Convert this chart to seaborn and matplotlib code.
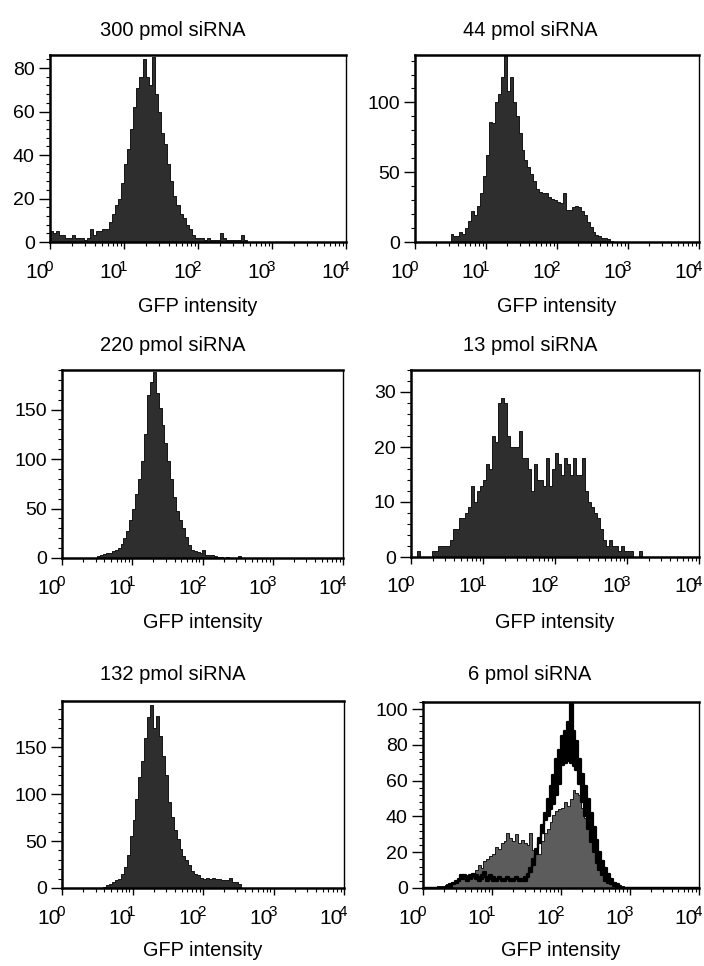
import numpy as np
import matplotlib
matplotlib.use("Agg")
import matplotlib.pyplot as plt
import matplotlib.transforms as mtransforms
from matplotlib.ticker import FixedLocator, AutoMinorLocator, LogLocator, NullFormatter
import seaborn as sns

# ---------------- data (histogram counts, 24 bins per decade, 10^0..10^4) ----------------
BINS_PER_DECADE = 24
N_BINS = 96

titles = ["300 pmol siRNA", "44 pmol siRNA", "220 pmol siRNA",
          "13 pmol siRNA", "132 pmol siRNA", "6 pmol siRNA"]
xlabel_text = "GFP intensity"
xtick_exponents = [0, 1, 2, 3, 4]

start_300 = 0
counts_300 = [5, 4, 5, 3, 3, 2, 2, 3, 2, 2, 2, 1, 2, 6, 3, 5, 5, 6, 6, 9, 13, 17, 20, 27, 36,
              43, 52, 62, 71, 76, 84, 76, 72, 85, 68, 60, 50, 45, 36, 28, 21, 17, 13, 11, 8,
              6, 3, 2, 2, 2, 1, 2, 1, 1, 1, 4, 2, 1, 1, 1, 1, 1, 3, 1]

start_44 = 12
counts_44 = [6, 4, 4, 7, 6, 10, 15, 22, 19, 26, 35, 47, 62, 86, 85, 100, 106, 118, 133, 108,
             118, 100, 90, 78, 66, 59, 54, 49, 44, 38, 36, 35, 35, 32, 31, 30, 29, 28, 35, 23,
             23, 25, 26, 25, 22, 19, 14, 11, 7, 5, 4, 3, 3, 2, 1]

start_220 = 12
counts_220 = [2, 3, 4, 5, 5, 7, 8, 10, 14, 20, 27, 38, 50, 65, 80, 98, 125, 165, 178, 188,
              167, 152, 134, 116, 98, 80, 62, 48, 38, 30, 21, 13, 8, 7, 6, 5, 8, 3, 3, 3,
              2, 1, 1, 0, 1, 0, 0, 0, 2]

start_13 = 0
counts_13 = [0, 0, 1, 0, 0, 0, 0, 1, 1, 2, 2, 2, 2, 3, 5, 5, 7, 7, 8, 9, 13, 10, 12, 13, 14,
             17, 16, 22, 21, 28, 29, 28, 22, 20, 20, 20, 23, 18, 18, 16, 12, 17, 14, 14, 13,
             18, 13, 16, 19, 17, 15, 18, 17, 15, 18, 15, 15, 18, 12, 10, 9, 8, 7, 5, 3,
             2, 3, 2, 2, 1, 2, 1, 1, 1, 0, 0, 1]

start_132 = 14
counts_132 = [1, 3, 4, 6, 9, 10, 15, 22, 35, 55, 72, 95, 118, 135, 160, 182, 195, 170, 183,
              162, 140, 120, 92, 76, 62, 52, 42, 34, 30, 25, 18, 15, 14, 11, 10, 11, 10, 11,
              10, 10, 9, 8, 9, 11, 6, 6, 4]

start_6 = 5
counts_6 = [1, 1, 1, 2, 2, 3, 3, 4, 6, 6, 7, 8, 8, 10, 13, 11, 15, 16, 18, 19, 23, 22, 25, 26,
            31, 28, 26, 30, 25, 27, 25, 24, 31, 21, 20, 19, 26, 31, 33, 37, 41, 43, 44, 45,
            48, 46, 50, 55, 53, 52, 45, 39, 33, 28, 21, 16, 10, 7, 5, 4, 3, 2, 2, 1, 1]

# overlaid control histograms in the 6 pmol panel (outlines)
start_ctrl_a = 8
counts_ctrl_a = [1, 2, 3, 4, 5, 7, 7, 6, 7, 8, 7, 6, 7, 9, 6, 7, 6, 5, 6, 5, 5, 6, 5, 5, 6,
                 5, 5, 6, 8, 11, 16, 22, 28, 35, 42, 50, 57, 63, 72, 77, 85, 88, 93, 103, 88,
                 82, 72, 64, 57, 50, 42, 34, 27, 20, 15, 11, 8, 5, 3, 2, 1]
start_ctrl_b = 10
counts_ctrl_b = [2, 3, 4, 5, 5, 4, 5, 6, 5, 4, 5, 6, 4, 5, 4, 4, 5, 4, 4, 5, 4, 4, 5, 4, 4,
                 4, 6, 9, 13, 19, 25, 31, 38, 40, 44, 47, 52, 58, 69, 70, 71, 70, 68, 66, 58,
                 48, 40, 33, 26, 20, 14, 10, 7, 4, 3, 2, 1]

y_max = [86, 134, 190, 34, 199, 104]
y_ticks = [[0, 20, 40, 60, 80], [0, 50, 100], [0, 50, 100, 150],
           [0, 10, 20, 30], [0, 50, 100, 150], [0, 20, 40, 60, 80, 100]]

# ---------------- layout (pixel boxes of each axes) ----------------
W, H = 704, 966
boxes = [(50, 346, 55, 242), (415, 699, 55, 242),
         (62, 343, 370, 558), (411, 699, 370, 557),
         (62, 344, 701, 888), (423, 699, 702, 888)]
title_x = [173, 530]
title_y = [31, 345, 675]
xlabel_y = [306, 622, 950]

sns.set_theme(style="ticks")
plt.rcParams['font.family'] = ['Liberation Sans', 'DejaVu Sans']

fig = plt.figure(figsize=(W / 100, H / 100), dpi=100)

log_centers = (np.arange(N_BINS) + 0.5) / BINS_PER_DECADE
x_centers = 10 ** log_centers


def full(start, vals):
    arr = np.zeros(N_BINS)
    arr[start:start + len(vals)] = vals
    return arr


series = [(start_300, counts_300), (start_44, counts_44), (start_220, counts_220),
          (start_13, counts_13), (start_132, counts_132), (start_6, counts_6)]

DARK = "#2e2e2e"
GRAY = "#5c5c5c"

for i, ((L, R, T, B), (st, vals)) in enumerate(zip(boxes, series)):
    ax = fig.add_axes([L / W, 1 - B / H, (R - L) / W, (B - T) / H])
    counts = full(st, vals)
    fillc = GRAY if i == 5 else DARK
    sns.histplot(x=x_centers, weights=counts, bins=N_BINS, binrange=(0, 4), log_scale=True,
                 element="step", fill=True, color=fillc, alpha=1, edgecolor="black",
                 linewidth=0.6, ax=ax)
    if i == 5:
        ca = full(start_ctrl_a, counts_ctrl_a)
        cb = full(start_ctrl_b, counts_ctrl_b)
        edges = 10 ** (np.arange(N_BINS + 1) / BINS_PER_DECADE)
        ax.fill_between(edges, np.append(cb, cb[-1]), np.append(ca, ca[-1]),
                        where=np.append(ca > cb, False) | np.append(False, ca > cb),
                        step="post", color="black", linewidth=0, zorder=3)
        for c in (ca, cb):
            sns.histplot(x=x_centers, weights=c, bins=N_BINS, binrange=(0, 4), log_scale=True,
                         element="step", fill=False, color="black", linewidth=1.6, ax=ax,
                         zorder=4)
    ax.set_xlim(1, 1e4)
    ax.set_ylim(0, y_max[i])
    ax.set_xlabel("")
    ax.set_ylabel("")
    ax.grid(False)

    for s in ax.spines.values():
        s.set_visible(True)
        s.set_color("black")
        s.set_linewidth(1.8)
        s.set_zorder(6)
    ax.spines["right"].set_linewidth(1.0)

    ax.yaxis.set_major_locator(FixedLocator(y_ticks[i]))
    ax.yaxis.set_minor_locator(AutoMinorLocator(5))
    ax.tick_params(axis="y", which="major", direction="out", length=8, width=1,
                   labelsize=14, pad=3, left=True, colors="black")
    ax.tick_params(axis="y", which="minor", direction="out", length=3, width=0.8,
                   left=True, colors="black")

    ax.xaxis.set_major_locator(FixedLocator([10 ** e for e in xtick_exponents]))
    ax.xaxis.set_minor_locator(LogLocator(base=10, subs=np.arange(2, 10)))
    ax.xaxis.set_major_formatter(NullFormatter())
    ax.xaxis.set_minor_formatter(NullFormatter())
    ax.tick_params(axis="x", which="major", direction="out", length=5, width=1,
                   bottom=True, colors="black")
    ax.tick_params(axis="x", which="minor", direction="out", length=3, width=0.8,
                   bottom=True, colors="black")

    blend = mtransforms.blended_transform_factory(ax.transData, ax.transAxes)
    for e in xtick_exponents:
        t1 = blend + mtransforms.ScaledTranslation(-0.01, -0.205, fig.dpi_scale_trans)
        ax.text(10 ** e, 0, "10", transform=t1, ha="right", va="top", fontsize=15,
                color="black")
        t2 = blend + mtransforms.ScaledTranslation(0.03, -0.175, fig.dpi_scale_trans)
        ax.text(10 ** e, 0, str(e), transform=t2, ha="right", va="top", fontsize=11,
                color="black")

    row, col = divmod(i, 2)
    fig.text(title_x[col] / W, 1 - title_y[row] / H, titles[i], ha="center", va="center",
             fontsize=14.5, color="black")
    fig.text((L + R) / 2 / W, 1 - xlabel_y[row] / H, xlabel_text, ha="center",
             va="center", fontsize=14.3, color="black")

fig.savefig("out.png", dpi=100, facecolor="white")
